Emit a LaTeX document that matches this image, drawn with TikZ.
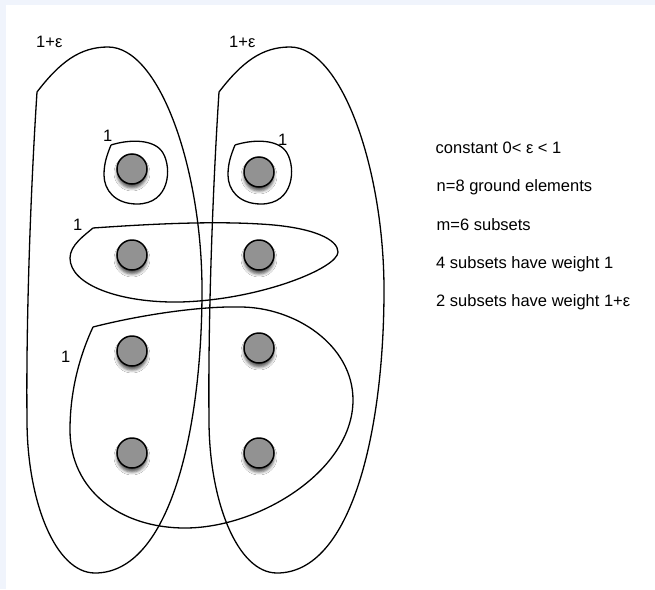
\documentclass[tikz,border=0pt]{standalone}
\usepackage{fontspec}
\setmainfont{Liberation Sans}
\usetikzlibrary{shadows.blur}
\definecolor{mybg}{RGB}{240, 244, 252}
\definecolor{mygray}{RGB}{146, 146, 146}
\newcommand{\drawbigloop}{
    % Weight 1+eps subset: corner top left, long tail at the bottom
    \draw[setline] (37,92) .. controls (60,62) and (80,47) .. (108,47)
        .. controls (160,47) and (202,170) .. (202,290)
        .. controls (202,430) and (170,573) .. (95,573)
        .. controls (55,573) and (27,500) .. (27,420)
        .. controls (26,330) and (30,200) .. (37,92);
}
\newcommand{\drawsmallloop}{
    \draw[setline] (111,145) .. controls (130,139) and (155,139) .. (163,153)
        .. controls (172,168) and (170,204) .. (137,204)
        .. controls (115,204) and (104,190) .. (104,175)
        .. controls (104,163) and (107,155) .. (111,145);
}

\begin{document}
\begin{tikzpicture}[x=1pt, y=-1pt,
    setline/.style={line width=1.3pt, black},
    element/.style={circle, draw=black, line width=1.5pt, fill=mygray,
        minimum size=30pt, inner sep=0pt,
        blur shadow={shadow xshift=0pt, shadow yshift=-4pt,
            shadow blur radius=3pt, shadow opacity=65}},
    lbl/.style={anchor=base west, inner sep=0pt,
        font=\fontsize{16.5}{19}\selectfont}]
    \useasboundingbox (0,0) rectangle (655,589);

    % ----------------------------------------------------
    % Background
    % ----------------------------------------------------
    \fill[mybg] (0,0) rectangle (655,589);
    \fill[white] (6,5) rectangle (655,589);

    % ----------------------------------------------------
    % Subsets
    % ----------------------------------------------------
    \drawbigloop
    \begin{scope}[shift={(182,0)}]
        \drawbigloop
    \end{scope}

    \drawsmallloop
    \begin{scope}[shift={(124,0)}]
        \drawsmallloop
    \end{scope}

    % Middle subset (two elements side by side)
    \draw[setline] (93,228) .. controls (150,224) and (210,221) .. (260,224)
        .. controls (315,227) and (338,240) .. (338,252)
        .. controls (338,268) and (260,300) .. (180,302)
        .. controls (120,303) and (70,285) .. (70,258)
        .. controls (70,245) and (85,235) .. (93,228);

    % Lower subset (four elements)
    \draw[setline] (93,327) .. controls (140,315) and (200,306) .. (240,307)
        .. controls (295,307) and (353,345) .. (353,400)
        .. controls (353,470) and (260,528) .. (185,528)
        .. controls (120,528) and (70,490) .. (70,430)
        .. controls (70,390) and (80,355) .. (93,327);

    % ----------------------------------------------------
    % Ground elements
    % ----------------------------------------------------
    \node[element] (e1) at (132,169) {};
    \node[element] (e2) at (259,172) {};
    \node[element] (e3) at (132,255) {};
    \node[element] (e4) at (259,255) {};
    \node[element] (e5) at (132,351) {};
    \node[element] (e6) at (259,348) {};
    \node[element] (e7) at (132,453) {};
    \node[element] (e8) at (259,453) {};

    % ----------------------------------------------------
    % Weights
    % ----------------------------------------------------
    \node[lbl] (wbigl) at (36,47) {1+ε};
    \node[lbl] (wbigr) at (229,47) {1+ε};
    \node[lbl] (wsmalll) at (103,141) {1};
    \node[lbl] (wsmallr) at (278,145) {1};
    \node[lbl] (wmid) at (73,230) {1};
    \node[lbl] (wlow) at (61,362) {1};

    % ----------------------------------------------------
    % Legend
    % ----------------------------------------------------
    \node[lbl] (lconst) at (435.5,153) {constant 0< ε < 1};
    \node[lbl] (lground) at (436.5,191) {n=8 ground elements};
    \node[lbl] (lsubsets) at (436.5,230) {m=6 subsets};
    \node[lbl] (lweighta) at (436,268) {4 subsets have weight 1};
    \node[lbl] (lweightb) at (436,306) {2 subsets have weight 1+ε};

\end{tikzpicture}
\end{document}
